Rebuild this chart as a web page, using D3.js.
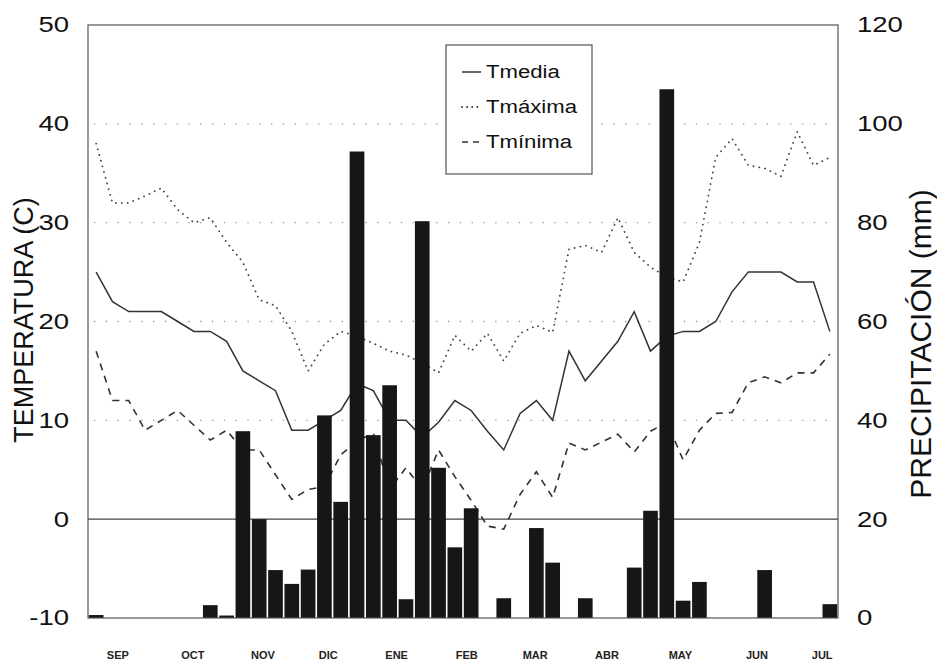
<!DOCTYPE html>
<html>
<head>
<meta charset="utf-8">
<script src="https://cdn.jsdelivr.net/npm/d3@7"></script>
<style>
  body { margin: 0; background: #fff; }
  svg { display: block; font-family: "Liberation Sans", Arial, Helvetica, sans-serif; }
</style>
</head>
<body>
<svg width="937" height="660"></svg>
<script>
var svg = d3.select("svg"),
  width = +svg.attr("width"),
  height = +svg.attr("height");

// semanas de septiembre a julio (indice 0..45)
var months = ["SEP", "OCT", "NOV", "DIC", "ENE", "FEB", "MAR", "ABR", "MAY", "JUN", "JUL"];
var monthPos = [1.3, 5.9, 10.2, 14.2, 18.4, 22.7, 26.9, 31.3, 35.8, 40.5, 44.5];

var tmedia = [25, 22, 21, 21, 21, 20, 19, 19, 18, 15, 14, 13, 9, 9, 10, 11, 13.7, 13, 10, 10,
  8.3, 9.8, 12, 11, 8.9, 7, 10.7, 12, 10, 17, 14, 16, 18, 21, 17, 18.5, 19, 19, 20, 23,
  25, 25, 25, 24, 24, 19];
var tmaxima = [38, 32, 32, 32.7, 33.5, 31.3, 30, 30.5, 28, 26, 22.2, 21.6, 19, 15, 17.7, 19, 18.5, 17.8, 17, 16.6,
  15.8, 14.8, 18.6, 17, 18.8, 16, 18.8, 19.6, 18.9, 27.3, 27.7, 27, 30.5, 27, 25.5, 24.5, 24, 28, 36.6, 38.5,
  35.8, 35.5, 34.7, 39.2, 35.8, 36.6];
var tminima = [17, 12, 12, 9, 10, 11, 9.5, 8, 9, 7, 7, 4.5, 2, 3, 3.3, 6.5, 7.9, 8.7, 3, 5.2,
  3, 7, 4.3, 1.9, -0.7, -1, 2.5, 4.8, 2.2, 7.7, 7, 7.8, 8.6, 6.8, 8.9, 9.8, 6, 9, 10.7, 10.8,
  13.8, 14.4, 13.8, 14.8, 14.8, 16.7];
var precip = [0.6, 0, 0, 0, 0, 0, 0, 2.6, 0.5, 37.8, 20, 9.7, 6.9, 9.8, 41, 23.5, 94.4, 37, 47.1, 3.8,
  80.3, 30.4, 14.3, 22.2, 0, 4, 0, 18.2, 11.2, 0, 4, 0, 0, 10.2, 21.7, 107, 3.5, 7.3, 0, 0,
  0, 9.7, 0, 0, 0, 2.8];

var tTicks = [-10, 0, 10, 20, 30, 40, 50];
var pTicks = [0, 20, 40, 60, 80, 100, 120];
var gridTemps = [10, 20, 30, 40];

var pLeft = 88, pRight = 838, pTop = 25, pBottom = 618;
var stretch = 1.28; // el original esta algo ensanchado en horizontal

var x = d3.scaleLinear().domain([-0.5, tmedia.length - 0.5]).range([pLeft, pRight]);
var yT = d3.scaleLinear().domain([-10, 50]).range([pBottom, pTop]);
var yP = d3.scaleLinear().domain([0, 120]).range([pBottom, pTop]);

var g = svg.append("g");

// lineas punteadas de referencia
g.selectAll("line.grid")
  .data(gridTemps)
  .enter().append("line")
  .attr("class", "grid")
  .attr("x1", pLeft + 6).attr("x2", pRight - 4)
  .attr("y1", d => yT(d)).attr("y2", d => yT(d))
  .attr("stroke", "#999")
  .attr("stroke-width", 1.3)
  .attr("stroke-dasharray", "1.3,10.5");

// linea del cero
g.append("line")
  .attr("x1", pLeft).attr("x2", pRight)
  .attr("y1", yT(0)).attr("y2", yT(0))
  .attr("stroke", "#444")
  .attr("stroke-width", 1.2);

var line = d3.line()
  .x((d, i) => x(i))
  .y(d => yT(d));

g.append("path")
  .datum(tmaxima)
  .attr("d", line)
  .attr("fill", "none")
  .attr("stroke", "#444")
  .attr("stroke-width", 1.8)
  .attr("stroke-linecap", "round")
  .attr("stroke-dasharray", "0.1,5.8");

g.append("path")
  .datum(tminima)
  .attr("d", line)
  .attr("fill", "none")
  .attr("stroke", "#333")
  .attr("stroke-width", 1.6)
  .attr("stroke-dasharray", "7,6");

g.append("path")
  .datum(tmedia)
  .attr("d", line)
  .attr("fill", "none")
  .attr("stroke", "#333")
  .attr("stroke-width", 1.5);

// barras de precipitacion (encima de las lineas)
var bw = x(0.45) - x(-0.45);
g.selectAll("rect.bar")
  .data(precip)
  .enter().append("rect")
  .attr("class", "bar")
  .attr("x", (d, i) => x(i) - bw / 2)
  .attr("width", bw)
  .attr("y", d => yP(d))
  .attr("height", d => yP(0) - yP(d))
  .attr("fill", "#161616");

// marco
g.append("rect")
  .attr("x", pLeft).attr("y", pTop)
  .attr("width", pRight - pLeft).attr("height", pBottom - pTop)
  .attr("fill", "none")
  .attr("stroke", "#555")
  .attr("stroke-width", 1.2);

// ejes
var axL = g.append("g")
  .attr("transform", "translate(" + pLeft + ",0)")
  .call(d3.axisLeft(yT).tickValues(tTicks).tickSize(0).tickFormat(d => String(d)));
var axR = g.append("g")
  .attr("transform", "translate(" + pRight + ",0)")
  .call(d3.axisRight(yP).tickValues(pTicks).tickSize(0).tickFormat(d => String(d)));
var axB = g.append("g")
  .attr("transform", "translate(0," + pBottom + ")")
  .call(d3.axisBottom(x).tickValues(monthPos).tickSize(0).tickPadding(33).tickFormat((d, i) => months[i]));

axL.select(".domain").remove();
axR.select(".domain").remove();
axL.selectAll("text")
  .attr("x", -19 / stretch)
  .attr("transform", "scale(" + stretch + ",1)")
  .attr("font-size", 21.5).attr("fill", "#111");
axR.selectAll("text")
  .attr("x", 19 / stretch)
  .attr("transform", "scale(" + stretch + ",1)")
  .attr("font-size", 21.5).attr("fill", "#111");
axB.select(".domain").remove();
axB.selectAll("text").attr("font-size", 11).attr("font-weight", "bold").attr("fill", "#222");
axL.attr("font-family", null);
axR.attr("font-family", null);
axB.attr("font-family", null);

// titulos
svg.append("text")
  .attr("transform", "translate(33,320) rotate(-90)")
  .attr("text-anchor", "middle")
  .attr("font-size", 27)
  .attr("fill", "#111")
  .text("TEMPERATURA (C)");
svg.append("text")
  .attr("transform", "translate(931,344) rotate(-90)")
  .attr("text-anchor", "middle")
  .attr("font-size", 30)
  .attr("fill", "#111")
  .text("PRECIPITACIÓN (mm)");

// leyenda
var legendItems = [
  {label: "Tmedia", dash: null, width: 1.5},
  {label: "Tmáxima", dash: "0.1,5", width: 1.8},
  {label: "Tmínima", dash: "6,5", width: 1.6}
];
var leg = svg.append("g").attr("transform", "translate(446,45)");
leg.append("rect")
  .attr("width", 146).attr("height", 129)
  .attr("fill", "#fff")
  .attr("stroke", "#555")
  .attr("stroke-width", 1.2);
var li = leg.selectAll("g.item")
  .data(legendItems)
  .enter().append("g")
  .attr("class", "item")
  .attr("transform", (d, i) => "translate(0," + (27 + i * 35) + ")");
li.append("line")
  .attr("x1", 16).attr("x2", 35)
  .attr("stroke", "#333")
  .attr("stroke-width", d => d.width)
  .attr("stroke-linecap", d => d.dash && d.dash[0] === "0" ? "round" : null)
  .attr("stroke-dasharray", d => d.dash);
li.append("text")
  .attr("transform", "translate(40,0) scale(1.23,1)")
  .attr("dy", "0.35em")
  .attr("font-size", 18)
  .attr("fill", "#111")
  .text(d => d.label);
</script>
</body>
</html>
